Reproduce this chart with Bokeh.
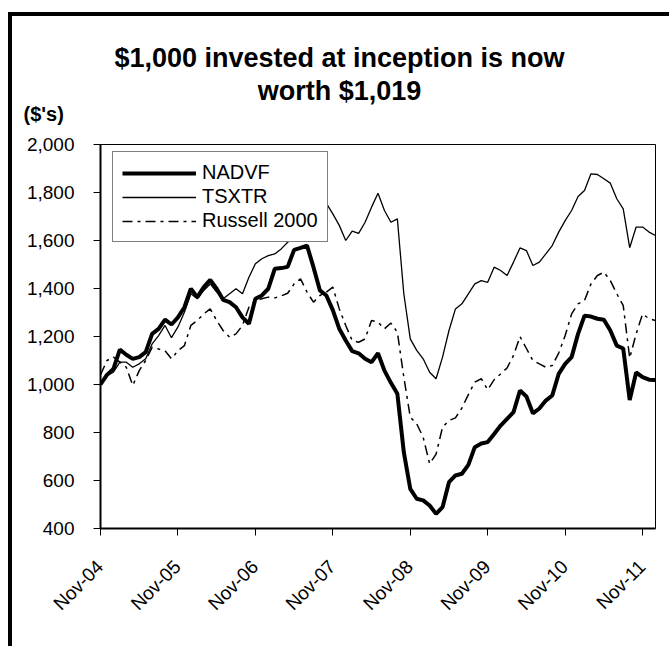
import math
from bokeh.plotting import figure
from bokeh.layouts import column
from bokeh.models import (Legend, LegendItem, FixedTicker,
                          NumeralTickFormatter, ColumnDataSource, Range1d)
from bokeh.core.properties import value
from bokeh.embed import file_html
from bokeh.resources import INLINE

# ---------------- data ----------------
month_names = ["Nov", "Dec", "Jan", "Feb", "Mar", "Apr", "May", "Jun",
               "Jul", "Aug", "Sep", "Oct"]
n_months = 87  # Nov-04 .. Jan-12

nadvf = [1000, 1040, 1065, 1145, 1124, 1107, 1114, 1135, 1211, 1232, 1270, 1250,
         1280, 1322, 1399, 1364, 1406, 1436, 1399, 1353, 1343, 1322, 1280, 1253,
         1357, 1371, 1399, 1482, 1485, 1490, 1561, 1569, 1579, 1489, 1392, 1371,
         1310, 1232, 1183, 1139, 1130, 1107, 1093, 1130, 1058, 1007, 961, 718,
         565, 524, 517, 496, 461, 489, 593, 621, 628, 665, 739, 754,
         760, 794, 829, 857, 885, 975, 950, 880, 900, 933, 954, 1044,
         1086, 1114, 1211, 1287, 1283, 1274, 1270, 1225, 1162, 1150, 935, 1050,
         1031, 1020, 1019]

tsxtr = [1010, 1037, 1051, 1093, 1093, 1072, 1086, 1107, 1169, 1204, 1246, 1195,
         1240, 1301, 1378, 1357, 1392, 1419, 1385, 1357, 1378, 1399, 1378, 1447,
         1503, 1524, 1537, 1544, 1565, 1593, 1610, 1640, 1665, 1700, 1730, 1755,
         1711, 1663, 1600, 1639, 1630, 1676, 1739, 1797, 1725, 1676, 1690, 1378,
         1190, 1142, 1107, 1051, 1024, 1114, 1225, 1315, 1336, 1378, 1419, 1433,
         1426, 1489, 1475, 1454, 1510, 1569, 1558, 1496, 1510, 1544, 1579, 1635,
         1683, 1725, 1783, 1808, 1878, 1875, 1857, 1839, 1774, 1732, 1570, 1656,
         1656, 1635, 1621]

russell = [1040, 1100, 1114, 1093, 1072, 996, 1058, 1100, 1155, 1148, 1141, 1107,
           1141, 1162, 1246, 1267, 1294, 1315, 1267, 1225, 1197, 1211, 1246, 1322,
           1350, 1357, 1364, 1361, 1369, 1380, 1419, 1440, 1385, 1343, 1371, 1385,
           1406, 1315, 1246, 1183, 1176, 1190, 1267, 1260, 1232, 1256, 1218, 1031,
           864, 836, 780, 670, 710, 822, 850, 861, 902, 958, 1010, 1024,
           978, 1020, 1044, 1069, 1121, 1200, 1150, 1100, 1086, 1072, 1079, 1131,
           1204, 1294, 1336, 1350, 1419, 1454, 1468, 1433, 1378, 1329, 1110, 1211,
           1294, 1274, 1267]

y_ticks = [400, 600, 800, 1000, 1200, 1400, 1600, 1800, 2000]
title_lines = ["$1,000 invested at inception is now", "worth $1,019"]
unit_label = "($'s)"
series_names = ["NADVF", "TSXTR", "Russell 2000"]

# month labels
months = []
for i in range(n_months):
    name = month_names[i % 12]
    year = 4 + (i + 10) // 12
    months.append(f"{name}-{year:02d}")
x = list(range(n_months))
tick_pos = [i for i, m in enumerate(months) if m.startswith("Nov")]
tick_text = [months[t] for t in tick_pos]

src = ColumnDataSource(dict(x=x, nadvf=nadvf, tsxtr=tsxtr, russell=russell))

FONT = "Liberation Sans"
W = 657
B_LEFT, B_RIGHT = 88, 14          # main plot borders (px)
FRAME_W = W - B_LEFT - B_RIGHT
PX_PER_MONTH = FRAME_W / (n_months - 1)


def bare_fig(h, xr, yr):
    f = figure(width=W, height=h, output_backend="svg", toolbar_location=None,
               x_range=xr, y_range=yr, x_axis_type=None, y_axis_type=None,
               min_border=0, outline_line_color=None,
               background_fill_color="white", border_fill_color="white")
    f.frame_align = False
    f.grid.visible = False
    return f


# ---------------- header (title + unit label) ----------------
hdr_h = 112
hdr = bare_fig(hdr_h, Range1d(0, W), Range1d(hdr_h, 0))
hdr.text(x=[327, 327], y=[41, 74], text=title_lines, text_align="center",
         text_baseline="alphabetic", text_font=value(FONT),
         text_font_size="27px", text_font_style="bold", text_color="black")
hdr.text(x=[11], y=[97], text=[unit_label], text_align="left",
         text_baseline="alphabetic", text_font=value(FONT),
         text_font_size="20px", text_font_style="bold", text_color="black")

# ---------------- main chart ----------------
p = figure(width=W, height=414, output_backend="svg", toolbar_location=None,
           x_range=Range1d(0, n_months - 1), y_range=Range1d(400, 2000),
           min_border_left=B_LEFT, min_border_right=B_RIGHT, min_border_top=16,
           min_border_bottom=14, background_fill_color="white",
           border_fill_color="white")

p.outline_line_color = "black"
p.outline_line_width = 1
p.grid.visible = False

for ax in (p.xaxis[0], p.yaxis[0]):
    ax.axis_line_width = 2
    ax.axis_line_color = "black"
    ax.major_tick_out = 7
    ax.major_tick_in = 0
    ax.major_tick_line_width = 1
    ax.major_tick_line_color = "black"
    ax.minor_tick_out = 0
    ax.minor_tick_in = 0
    ax.major_label_text_font = FONT
    ax.major_label_text_font_size = "19px"
    ax.major_label_text_color = "black"

p.xaxis.ticker = FixedTicker(ticks=tick_pos)
p.xaxis.major_label_overrides = {t: "" for t in tick_pos}
p.xaxis.major_label_text_font_size = "0px"
p.xaxis.major_label_standoff = 0

p.yaxis.ticker = FixedTicker(ticks=y_ticks)
p.yaxis.formatter = NumeralTickFormatter(format="0,0")
p.yaxis.major_label_standoff = 19

r1 = p.line("x", "nadvf", source=src, line_color="black", line_width=4)
r2 = p.line("x", "tsxtr", source=src, line_color="black", line_width=1.3)
r3 = p.line("x", "russell", source=src, line_color="black", line_width=1.5,
            line_dash="10 5 3 5")

legend = Legend(items=[LegendItem(label=series_names[0], renderers=[r1]),
                       LegendItem(label=series_names[1], renderers=[r2]),
                       LegendItem(label=series_names[2], renderers=[r3])],
                location=(12, 286), orientation="vertical",
                glyph_width=74, glyph_height=20, label_standoff=6,
                padding=9, spacing=1, margin=0,
                label_text_font=FONT, label_text_font_size="20px",
                label_text_color="black",
                border_line_color="black", border_line_width=1,
                background_fill_color="white", background_fill_alpha=1)
p.add_layout(legend, "center")

# ---------------- rotated x tick labels ----------------
lab_h = 104
lab = bare_fig(lab_h,
               Range1d(-B_LEFT / PX_PER_MONTH, (W - B_LEFT) / PX_PER_MONTH),
               Range1d(lab_h, 0))
lab.text(x=[t - 8 / PX_PER_MONTH for t in tick_pos], y=[13.5] * len(tick_pos),
         text=tick_text, angle=math.pi / 4, text_align="right",
         text_baseline="top", text_font=value(FONT), text_font_size="19px",
         text_color="black")

layout = column(hdr, p, lab, spacing=0,
                styles={"border-left": "4px solid black",
                        "border-top": "4px solid black",
                        "margin-left": "8px", "margin-top": "12px"})

open("out.html", "w").write(file_html(layout, INLINE))
